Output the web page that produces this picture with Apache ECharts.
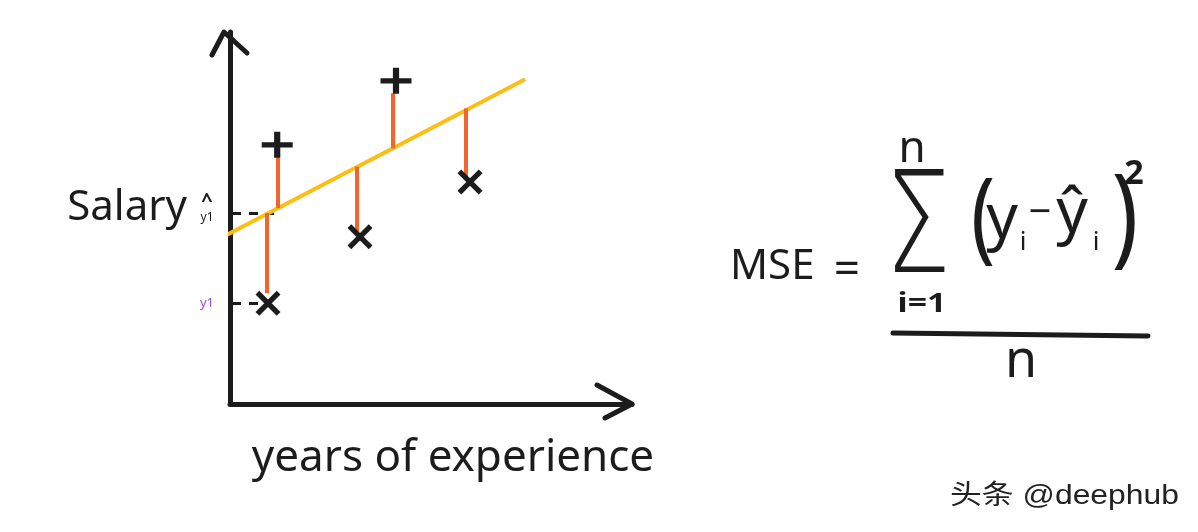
<!DOCTYPE html>
<html lang="en">
<head>
	<meta charset="UTF-8">
	<title>MSE</title>
	<script src="https://cdn.jsdelivr.net/npm/echarts/dist/echarts.min.js"></script>
	<style>
		html,body{margin:0;padding:0;background:#fff;}
	</style>
</head>
<body>
	<div id="app" style="width:1198px;height:532px"></div>

	<script>
		// points (x = years of experience, y = salary)
		var crossPoints=[[0.95,2.52],[3.25,4.18],[6.0,5.55]];
		var plusPoints=[[1.18,6.48],[4.15,8.08]];
		// fitted line, two ends
		var fitLine=[[-0.1,4.22],[7.38,8.12]];
		// residual segments: [x, y on the line, y at the mark]
		var residX=[0.92,1.19,3.18,4.06,5.89];
		var residFrom=[4.77,4.9,5.93,6.39,7.39];
		var residTo=[2.77,6.35,4.27,7.77,5.68];
		// dashed guides to the y axis
		var guideY=[4.77,2.52];
		var guideEnd=[1.1,0.9];

		var ink='#1c1c1c';
		var hand="'Noto Sans', sans-serif";
		var thin="'DejaVu Sans', sans-serif";

		var residData=residX.map(function(x,i){
			return {coords:[[x,residFrom[i]],[x,residTo[i]]]};
		});
		var guideData=guideY.map(function(y,i){
			return {coords:[[0.05,y],[guideEnd[i],y]]};
		});

		function txt(t,x,y,size,opt){
			opt=opt||{};
			return {
				type:'text',x:x,y:y,
				scaleX:opt.sx||1,scaleY:opt.sy||1,
				style:{
					text:t,
					fill:opt.color||ink,
					font:(opt.weight||'normal')+' '+size+'px '+(opt.family||hand),
					align:opt.align||'center',
					verticalAlign:'middle'
				}
			};
		}

		var myChart=echarts.init(document.getElementById('app'));
		var option={
			animation:false,
			grid:{left:230,right:566,top:32,bottom:128},
			xAxis:{
				type:'value',min:0,max:10.05,
				axisLine:{show:true,lineStyle:{color:ink,width:5,cap:'round'}},
				axisTick:{show:false},axisLabel:{show:false},splitLine:{show:false}
			},
			yAxis:{
				type:'value',min:0,max:9.3,
				axisLine:{show:true,lineStyle:{color:ink,width:5,cap:'round'}},
				axisTick:{show:false},axisLabel:{show:false},splitLine:{show:false}
			},
			series:[
				{
					type:'lines',coordinateSystem:'cartesian2d',
					data:guideData,
					lineStyle:{color:ink,width:3,type:[9,8],opacity:1},
					z:2
				},
				{
					type:'line',data:fitLine,clip:false,
					symbol:'none',
					lineStyle:{color:'#FDBE14',width:4},
					z:3
				},
				{
					type:'lines',coordinateSystem:'cartesian2d',
					data:residData,
					lineStyle:{color:'#F2662E',width:4,opacity:1},
					z:4
				},
				{
					type:'scatter',data:plusPoints,
					symbol:'path://M0,8 L20,8 L20,12 L0,12 Z M8,0 L12,0 L12,20 L8,20 Z',
					symbolSize:[31,26],
					itemStyle:{color:ink,opacity:1},
					z:5
				},
				{
					type:'scatter',data:crossPoints,
					symbol:'path://M0,3 L3,0 L20,17 L17,20 Z M17,0 L20,3 L3,20 L0,17 Z',
					symbolSize:25,
					itemStyle:{color:ink,opacity:1},
					z:5
				}
			],
			graphic:[
				// arrow heads
				{type:'polyline',shape:{points:[[212,55],[224,32],[247,53]]},
					style:{stroke:ink,lineWidth:5,fill:null,lineCap:'round',lineJoin:'round'}},
				{type:'polyline',shape:{points:[[597,385],[632,404],[605,418]]},
					style:{stroke:ink,lineWidth:5,fill:null,lineCap:'round',lineJoin:'round'}},
				// axis labels
				txt('Salary',187,208,42,{align:'right'}),
				txt('^',207,201,20,{weight:'bold'}),
				txt('y1',207,218,12),
				txt('y1',207,303,13,{color:'#9B4FD0'}),
				txt('years of experience',453,458,44),
				// formula
				txt('MSE',730,267,42,{align:'left'}),
				txt('=',847,271,46),
				txt('Σ',918,236,140,{sx:0.75,weight:300,family:thin}),
				txt('n',912,149,44),
				txt('i=1',922,305,26,{weight:'bold',sx:1.3}),
				txt('(',983,222,100,{sx:0.8}),
				txt('y',1002,220,62),
				txt('i',1023,243,26),
				txt('−',1040,214,40),
				txt('ŷ',1072,214,62),
				txt('i',1096,243,26),
				txt(')',1125,222,110,{sx:0.8}),
				txt('2',1134,174,34,{weight:'bold'}),
				{type:'line',shape:{x1:893,y1:333,x2:1148,y2:336},
					style:{stroke:ink,lineWidth:5,lineCap:'round'}},
				txt('n',1021,362,52),
				// watermark
				txt('头条 @deephub',950,497,27,{align:'left',color:'#222',sx:1.18,
					family:"'Liberation Sans','Noto Sans CJK SC',sans-serif"})
			]
		};
		myChart.setOption(option);
	</script>
</body>
</html>
